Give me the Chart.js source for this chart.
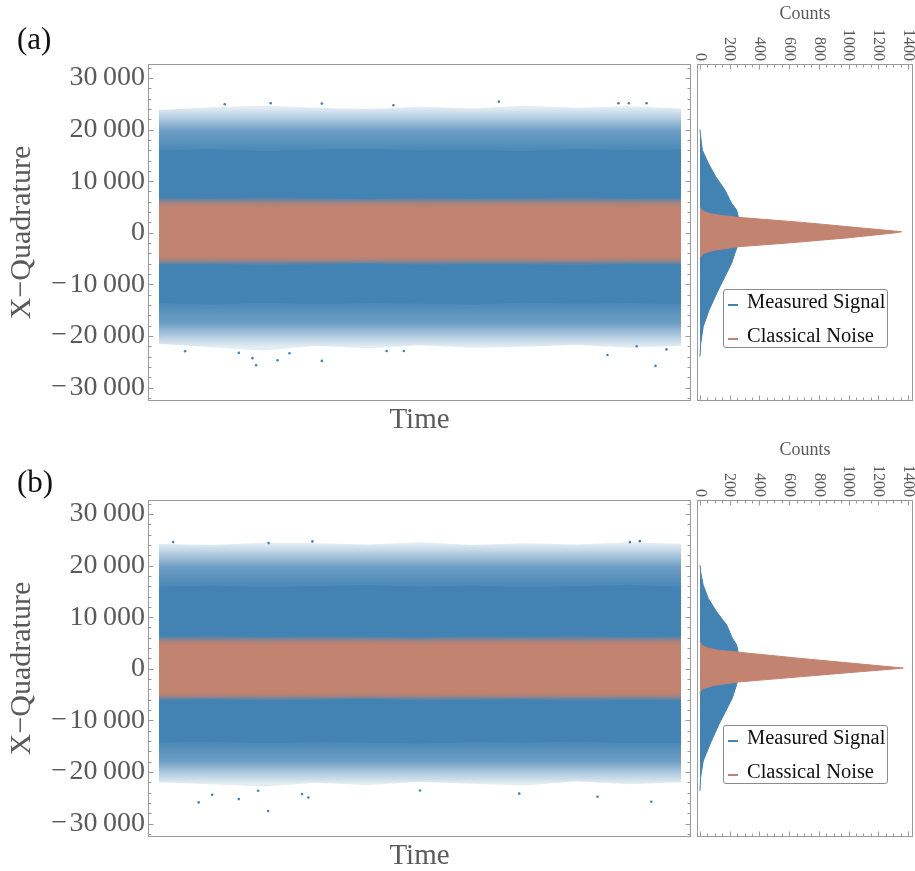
<!DOCTYPE html>
<html>
<head>
<meta charset="utf-8">
<script src="https://cdn.jsdelivr.net/npm/chart.js@4.4.1/dist/chart.umd.min.js"></script>
<style>
  html, body { margin: 0; padding: 0; background: #fff; }
  #wrap { position: relative; width: 915px; height: 871px; font-family: "Liberation Serif", "Times New Roman", serif; }
  #wrap canvas { position: absolute; }
  .tag { position: absolute; left: 17px; font-size: 31px; line-height: 1; color: #111; }
  .legend { position: absolute; left: 723px; width: 165px; height: 59px; box-sizing: border-box;
            border: 1px solid #8c8c8c; border-radius: 3px; background: #fff; }
  .legend div { position: absolute; left: 23px; font-size: 20.5px; line-height: 1; color: #111; white-space: nowrap; }
  .legend span { position: absolute; left: -19px; top: 13px; width: 10px; height: 2px; }
</style>
</head>
<body>
<div id="wrap">
  <canvas id="mainA" width="695" height="436" style="left:0;top:0"></canvas>
  <canvas id="histA" width="222" height="436" style="left:693px;top:0"></canvas>
  <canvas id="mainB" width="695" height="436" style="left:0;top:436px"></canvas>
  <canvas id="histB" width="222" height="436" style="left:693px;top:436px"></canvas>
  <div class="tag" style="top:23px">(a)</div>
  <div class="tag" style="top:466px">(b)</div>
  <div class="legend" style="top:289px">
    <div style="top:1px"><span style="background:#4383b4"></span>Measured Signal</div>
    <div style="top:35px"><span style="background:#c28370"></span>Classical Noise</div>
  </div>
  <div class="legend" style="top:725px">
    <div style="top:1px"><span style="background:#4383b4"></span>Measured Signal</div>
    <div style="top:35px"><span style="background:#c28370"></span>Classical Noise</div>
  </div>
</div>
<script>
// ---- data ----
const Y_MIN = -32600;
const Y_MAX = 32700;
const QUAD_TICKS = [-30000, -20000, -10000, 0, 10000, 20000, 30000];
const COUNT_TICKS = [0, 200, 400, 600, 800, 1000, 1200, 1400];

// time samples along each trace (arbitrary units, 0..100)
const TIME = [0, 10, 20, 30, 40, 50, 60, 70, 80, 90, 100];

// (a) scatter cloud envelopes
const BLUE_OUTER_TOP_A = [23800, 24300, 24600, 24200, 24000, 24400, 24100, 24600, 24200, 24500, 24100];
const BLUE_CORE_TOP_A = [15900, 16200, 15800, 16100, 16300, 15900, 16000, 15800, 16200, 16000, 16100];
const BLUE_CORE_BOTTOM_A = [-13600, -13900, -13500, -13800, -13600, -13700, -13900, -13500, -13700, -13600, -13800];
const BLUE_OUTER_BOTTOM_A = [-21500, -22200, -22800, -21900, -22400, -21800, -22300, -22100, -21700, -22300, -21900];
const ORANGE_OUTER_TOP_A = [6800, 6600, 6900, 6700, 6500, 6800, 6600, 6700, 6900, 6600, 6700];
const ORANGE_CORE_TOP_A = [5000, 5100, 4900, 5000, 5100, 4900, 5000, 5100, 5000, 4900, 5000];
const ORANGE_CORE_BOTTOM_A = [-4700, -4600, -4700, -4800, -4600, -4700, -4600, -4700, -4800, -4600, -4700];
const ORANGE_OUTER_BOTTOM_A = [-6100, -6000, -6300, -6100, -5900, -6200, -6000, -6100, -6300, -6000, -6100];
const OUTLIER_T_A = [5.0, 15.3, 17.9, 18.6, 22.7, 25.0, 31.2, 43.6, 46.9, 85.9, 91.5, 95.1, 97.2, 12.6, 21.4, 31.2, 44.9, 65.1, 88.0, 90.0, 93.4];
const OUTLIER_X_A = [-22950, -23270, -24300, -25660, -24700, -23350, -24830, -22900, -22900, -23700, -22000, -25800, -22600, 24900, 25100, 25030, 24700, 25400, 25100, 25100, 25100];

// (a) histograms: quadrature value -> counts
const HIST_BLUE_X_A = [-24000, -21500, -18200, -15000, -11100, -8500, -5900, -4000, -2800, 0, 3100, 4400, 5700, 8300, 10900, 13500, 16000, 19300, 20000];
const HIST_BLUE_N_A = [0, 5, 22, 61, 123, 168, 213, 235, 250, 265, 258, 247, 213, 168, 105, 56, 16, 2, 0];
const HIST_ORANGE_X_A = [-5000, -4650, -4000, -3360, -2710, -2000, -1000, 0, 200, 1000, 2000, 2990, 3400, 3700, 4070, 4400, 5040];
const HIST_ORANGE_N_A = [0, 3, 22, 100, 256, 585, 990, 1320, 1357, 1060, 690, 256, 130, 70, 30, 11, 0];

// (b) scatter cloud envelopes
const BLUE_OUTER_TOP_B = [24200, 24000, 24400, 24300, 24100, 24500, 24000, 24300, 24100, 24500, 24200];
const BLUE_CORE_TOP_B = [15900, 16100, 15800, 16000, 16200, 15900, 16100, 15800, 16000, 16200, 15900];
const BLUE_CORE_BOTTOM_B = [-14300, -14100, -14400, -14200, -14300, -14500, -14200, -14300, -14100, -14400, -14300];
const BLUE_OUTER_BOTTOM_B = [-22000, -22400, -22800, -22100, -22500, -21900, -22300, -22600, -21800, -22400, -22000];
const ORANGE_OUTER_TOP_B = [6200, 6400, 6100, 6300, 6200, 6000, 6300, 6200, 6400, 6100, 6300];
const ORANGE_CORE_TOP_B = [4650, 4700, 4600, 4650, 4750, 4600, 4650, 4700, 4600, 4650, 4700];
const ORANGE_CORE_BOTTOM_B = [-4700, -4650, -4750, -4700, -4600, -4700, -4750, -4650, -4700, -4800, -4700];
const ORANGE_OUTER_BOTTOM_B = [-6000, -5900, -6100, -6000, -5800, -6100, -6000, -5900, -6200, -6000, -6100];
const OUTLIER_T_B = [7.6, 10.2, 15.3, 19.0, 20.9, 27.4, 28.6, 50.0, 69.0, 84.0, 94.3, 2.7, 21.0, 29.4, 90.2, 92.1];
const OUTLIER_X_B = [-25900, -24430, -25260, -23650, -27570, -24290, -24940, -23600, -24200, -24800, -25780, 24540, 24350, 24680, 24540, 24730];

// (b) histograms
const HIST_BLUE_X_B = [-23650, -21080, -17870, -14650, -10800, -8230, -5650, -3080, 0, 3340, 4630, 5920, 8480, 11050, 13630, 16200, 18500, 20050];
const HIST_BLUE_N_B = [0, 4, 22, 67, 127, 173, 218, 247, 262, 256, 247, 218, 180, 112, 56, 22, 6, 0];
const HIST_ORANGE_X_B = [-4800, -4370, -3800, -3200, -2570, -2000, -1000, 0, 130, 1000, 2000, 3220, 3600, 4000, 4500, 5270];
const HIST_ORANGE_N_B = [0, 3, 25, 100, 256, 490, 900, 1320, 1369, 1050, 680, 256, 120, 55, 15, 0];

// ---- styling ----
const BLUE = [67, 131, 180];
const ORANGE = [194, 131, 112];
const FRAME = '#9a9a9a';
const LABEL = '#5a5a5a';
const SERIF = '"Liberation Serif", "Times New Roman", serif';

const rgba = (c, a) => `rgba(${c[0]},${c[1]},${c[2]},${a})`;
const mean = arr => arr.reduce((s, v) => s + v, 0) / arr.length;

function fmtQuad(v) {
    if (v === 0) return '0';
    const s = String(Math.abs(v));
    const body = s.length > 3 ? s.slice(0, -3) + '\u2009' + s.slice(-3) : s;
    return (v < 0 ? '\u2212\u200a' : '') + body;
}

// fringe of a cloud: fades from the dense edge towards the outer edge
function fringeFill(color, fromArr, toArr) {
    return (context) => {
        const chart = context.chart;
        const y = chart.scales.y;
        if (!chart.chartArea || !y) return rgba(color, 0.5);
        const g = chart.ctx.createLinearGradient(0, y.getPixelForValue(mean(fromArr)), 0, y.getPixelForValue(mean(toArr)));
        g.addColorStop(0, rgba(color, 0.95));
        g.addColorStop(0.45, rgba(color, 0.78));
        g.addColorStop(0.75, rgba(color, 0.42));
        g.addColorStop(1, rgba(color, 0.15));
        return g;
    };
}

// frame with inward Mathematica-style ticks
const framePlugin = {
    id: 'frame',
    afterDraw(chart, args, opts) {
        const {ctx, chartArea: a} = chart;
        const L = Math.round(a.left) + 0.5, R = Math.round(a.right) - 0.5;
        const T = Math.round(a.top) + 0.5, B = Math.round(a.bottom) - 0.5;
        ctx.save();
        ctx.strokeStyle = FRAME;
        ctx.lineWidth = 1;
        ctx.strokeRect(L, T, R - L, B - T);

        const tickSet = (scale, step) => {
            const majors = scale.ticks.map(t => t.value);
            const minors = [];
            for (let v = Math.ceil(scale.min / step) * step; v <= scale.max; v += step) {
                if (!majors.includes(v)) minors.push(v);
            }
            return {majors, minors};
        };

        ctx.beginPath();
        if (opts.yScale) {
            const s = chart.scales[opts.yScale];
            const {majors, minors} = tickSet(s, opts.yMinor);
            const put = (v, len) => {
                const p = Math.round(s.getPixelForValue(v)) + 0.5;
                ctx.moveTo(L, p); ctx.lineTo(L + len, p);
                ctx.moveTo(R, p); ctx.lineTo(R - len, p);
            };
            majors.forEach(v => put(v, 5));
            minors.forEach(v => put(v, 3));
        }
        if (opts.xScale) {
            const s = chart.scales[opts.xScale];
            const {majors, minors} = tickSet(s, opts.xMinor);
            const put = (v, len) => {
                const p = Math.round(s.getPixelForValue(v)) + 0.5;
                ctx.moveTo(p, T); ctx.lineTo(p, T + len);
                ctx.moveTo(p, B); ctx.lineTo(p, B - len);
            };
            majors.forEach(v => put(v, 5));
            minors.forEach(v => put(v, 3));

            // tick labels turned a quarter clockwise, ending just above the frame
            ctx.stroke();
            ctx.beginPath();
            ctx.fillStyle = LABEL;
            ctx.font = '16px ' + SERIF;
            ctx.textAlign = 'right';
            ctx.textBaseline = 'middle';
            s.ticks.forEach(t => {
                ctx.save();
                ctx.translate(s.getPixelForValue(t.value), a.top - 3);
                ctx.rotate(Math.PI / 2);
                ctx.fillText(String(t.value), 0, 0);
                ctx.restore();
            });
        }
        ctx.stroke();
        ctx.restore();
    }
};

function line(data, color, fill, bg) {
    return {
        data: data,
        borderColor: rgba(color, 0),
        borderWidth: 1,
        backgroundColor: bg,
        fill: fill,
        pointRadius: 0,
        tension: 0
    };
}

function createScatterChart(canvas, p) {
    const pts = arr => TIME.map((t, i) => ({x: t, y: arr[i]}));
    const outliers = p.outT.map((t, i) => ({x: t, y: p.outX[i]}));

    // fringes are drawn first and reach under the dense core, so no seam shows
    const datasets = [
        {
            type: 'scatter',
            data: outliers,
            pointRadius: 1.3,
            pointBackgroundColor: rgba(BLUE, 1),
            pointBorderWidth: 0
        },
        line(pts(p.oCoreTop), ORANGE, 2, rgba(ORANGE, 1)),                                  // 1
        line(pts(p.oCoreBottom), ORANGE, false, rgba(ORANGE, 1)),                           // 2
        line(pts(p.oOuterTop), ORANGE, 2, fringeFill(ORANGE, p.oCoreTop, p.oOuterTop)),      // 3
        line(pts(p.oOuterBottom), ORANGE, 1, fringeFill(ORANGE, p.oCoreBottom, p.oOuterBottom)), // 4
        line(pts(p.bCoreTop), BLUE, 6, rgba(BLUE, 1)),                                      // 5
        line(pts(p.bCoreBottom), BLUE, false, rgba(BLUE, 1)),                               // 6
        line(pts(p.bOuterTop), BLUE, 6, fringeFill(BLUE, p.bCoreTop, p.bOuterTop)),          // 7
        line(pts(p.bOuterBottom), BLUE, 5, fringeFill(BLUE, p.bCoreBottom, p.bOuterBottom))  // 8
    ];

    return new Chart(canvas, {
        type: 'line',
        data: {datasets: datasets},
        plugins: [framePlugin],
        options: {
            responsive: false,
            animation: false,
            events: [],
            layout: {padding: {top: 64, right: 2, left: 0, bottom: 0}},
            plugins: {
                legend: {display: false},
                tooltip: {enabled: false},
                frame: {yScale: 'y', yMinor: 2000}
            },
            scales: {
                x: {
                    type: 'linear',
                    min: -2.1,
                    max: 101.9,
                    grid: {display: false},
                    border: {display: false},
                    ticks: {display: false},
                    title: {
                        display: true,
                        text: 'Time',
                        color: LABEL,
                        font: {family: SERIF, size: 29, lineHeight: 1},
                        padding: {top: 0, bottom: 1}
                    },
                    afterFit: (scale) => { scale.height = 35; }
                },
                y: {
                    type: 'linear',
                    min: Y_MIN,
                    max: Y_MAX,
                    grid: {display: false, drawTicks: false},
                    border: {display: false},
                    afterBuildTicks: (scale) => { scale.ticks = QUAD_TICKS.map(v => ({value: v})); },
                    ticks: {
                        padding: 3,
                        color: LABEL,
                        font: {family: SERIF, size: 28},
                        callback: (v) => fmtQuad(v)
                    },
                    title: {
                        display: true,
                        text: 'X\u2212Quadrature',
                        color: LABEL,
                        font: {family: SERIF, size: 30, lineHeight: 1},
                        padding: {top: 7, bottom: 0}
                    },
                    afterFit: (scale) => { scale.width = 148; }
                }
            }
        }
    });
}

function createHistogramChart(canvas, bx, bn, ox, on) {
    const pts = (xs, ns) => xs.map((v, i) => ({x: ns[i], y: v}));
    return new Chart(canvas, {
        type: 'line',
        data: {
            datasets: [{
                data: pts(ox, on),
                borderColor: rgba(ORANGE, 1),
                borderWidth: 1,
                backgroundColor: rgba(ORANGE, 1),
                fill: 'origin',
                pointRadius: 0,
                tension: 0
            }, {
                data: pts(bx, bn),
                borderColor: rgba(BLUE, 1),
                borderWidth: 1,
                backgroundColor: rgba(BLUE, 1),
                fill: 'origin',
                pointRadius: 0,
                tension: 0
            }]
        },
        plugins: [framePlugin],
        options: {
            responsive: false,
            animation: false,
            events: [],
            indexAxis: 'y',
            layout: {padding: {top: 0, right: 2, left: 4, bottom: 35}},
            plugins: {
                legend: {display: false},
                tooltip: {enabled: false},
                frame: {xScale: 'x', xMinor: 50}
            },
            scales: {
                x: {
                    type: 'linear',
                    position: 'top',
                    min: -20,
                    max: 1434,
                    grid: {display: false, drawTicks: false},
                    border: {display: false},
                    afterBuildTicks: (scale) => { scale.ticks = COUNT_TICKS.map(v => ({value: v})); },
                    ticks: {display: false},
                    title: {
                        display: true,
                        text: 'Counts',
                        color: LABEL,
                        font: {family: SERIF, size: 18, lineHeight: 1},
                        padding: {top: 5, bottom: 0}
                    },
                    afterFit: (scale) => { scale.height = 64; }
                },
                y: {
                    type: 'linear',
                    display: false,
                    min: Y_MIN,
                    max: Y_MAX
                }
            }
        }
    });
}

createScatterChart(document.getElementById('mainA'), {
    bOuterTop: BLUE_OUTER_TOP_A, bCoreTop: BLUE_CORE_TOP_A,
    bCoreBottom: BLUE_CORE_BOTTOM_A, bOuterBottom: BLUE_OUTER_BOTTOM_A,
    oOuterTop: ORANGE_OUTER_TOP_A, oCoreTop: ORANGE_CORE_TOP_A,
    oCoreBottom: ORANGE_CORE_BOTTOM_A, oOuterBottom: ORANGE_OUTER_BOTTOM_A,
    outT: OUTLIER_T_A, outX: OUTLIER_X_A
});
createScatterChart(document.getElementById('mainB'), {
    bOuterTop: BLUE_OUTER_TOP_B, bCoreTop: BLUE_CORE_TOP_B,
    bCoreBottom: BLUE_CORE_BOTTOM_B, bOuterBottom: BLUE_OUTER_BOTTOM_B,
    oOuterTop: ORANGE_OUTER_TOP_B, oCoreTop: ORANGE_CORE_TOP_B,
    oCoreBottom: ORANGE_CORE_BOTTOM_B, oOuterBottom: ORANGE_OUTER_BOTTOM_B,
    outT: OUTLIER_T_B, outX: OUTLIER_X_B
});
createHistogramChart(document.getElementById('histA'), HIST_BLUE_X_A, HIST_BLUE_N_A, HIST_ORANGE_X_A, HIST_ORANGE_N_A);
createHistogramChart(document.getElementById('histB'), HIST_BLUE_X_B, HIST_BLUE_N_B, HIST_ORANGE_X_B, HIST_ORANGE_N_B);
</script>
</body>
</html>
